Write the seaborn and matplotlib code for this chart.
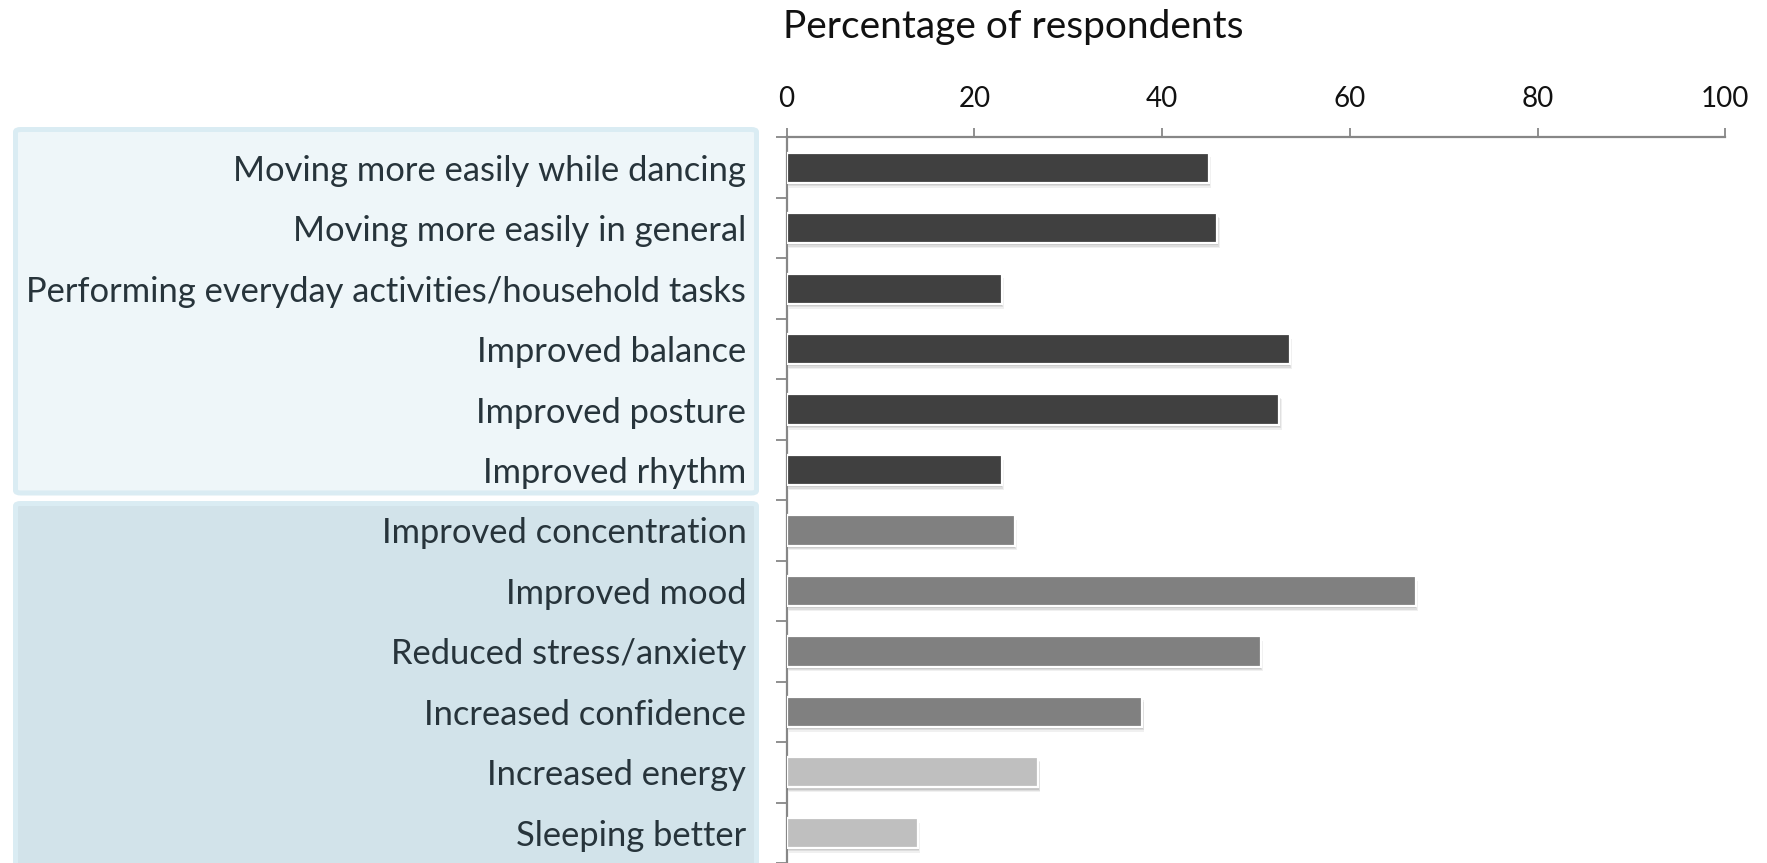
import numpy as np
import pandas as pd
import matplotlib
matplotlib.use("Agg")
import matplotlib.pyplot as plt
import matplotlib.patheffects as pe
from matplotlib.patches import FancyBboxPatch
import seaborn as sns

# Reported benefits of dance classes (percentage of respondents)
benefits = [
    "Moving more easily while dancing",
    "Moving more easily in general",
    "Performing everyday activities/household tasks",
    "Improved balance",
    "Improved posture",
    "Improved rhythm",
    "Improved concentration",
    "Improved mood",
    "Reduced stress/anxiety",
    "Increased confidence",
    "Increased energy",
    "Sleeping better",
]
percent = [45.0, 45.9, 22.9, 53.6, 52.5, 22.9, 24.3, 67.0, 50.5, 37.9, 26.8, 14.0]
domain = ["physical"] * 6 + ["mental"] * 4 + ["energy_sleep"] * 2
x_ticks = [0, 20, 40, 60, 80, 100]
x_title = "Percentage of respondents"

domain_colors = {"physical": "#404040", "mental": "#808080", "energy_sleep": "#BFBFBF"}

df = pd.DataFrame({"benefit": benefits, "percent": percent, "domain": domain})

sns.set_theme(style="white")
plt.rcParams["font.family"] = ["Lato", "DejaVu Sans"]

W, H, DPI = 1767, 863, 100
fig = plt.figure(figsize=(W / DPI, H / DPI), dpi=DPI)


def fx(px):
    return px / W


def fy(py):
    return 1 - py / H


# Shaded panels behind the two groups of row labels
panel_specs = [
    (15.5, 129.5, 741.0, 363.5, "#EEF6F9"),
    (15.5, 503.5, 741.0, 380.0, "#D2E3EA"),
]
for x0, y0, w, h, face in panel_specs:
    fig.add_artist(FancyBboxPatch(
        (fx(x0), fy(y0 + h)), fx(w), h / H,
        boxstyle="round,pad=0,rounding_size=0.003",
        transform=fig.transFigure, facecolor=face, edgecolor="#DAECF3",
        linewidth=3.6, zorder=0))

ax = fig.add_axes([fx(786.6), 0.0, fx(1725.3) - fx(786.6), fy(137.5)])
ax.set_facecolor("none")

sns.barplot(data=df, x="percent", y="benefit", hue="domain", palette=domain_colors,
            dodge=False, width=0.5, orient="h", legend=False, ax=ax, zorder=3)

# Soft drop shadow under each bar, built from a few faint offset copies
shadow = [
    pe.SimplePatchShadow(offset=(0.5, -1.5), shadow_rgbFace="#000000", alpha=0.10),
    pe.SimplePatchShadow(offset=(1.0, -2.5), shadow_rgbFace="#000000", alpha=0.08),
    pe.SimplePatchShadow(offset=(1.5, -3.5), shadow_rgbFace="#000000", alpha=0.06),
    pe.Normal(),
]
for bar in ax.patches:
    bar.set_edgecolor("white")
    bar.set_linewidth(1.6)
    bar.set_path_effects(shadow)

ax.set_xlim(0, 100)
ax.set_ylim(len(benefits) - 0.5, -0.5)

# Value axis along the top
ax.xaxis.tick_top()
ax.set_xticks(x_ticks)
ax.set_xticklabels([str(t) for t in x_ticks])
ax.tick_params(axis="x", which="major", direction="out", length=6.5, width=1.3,
               color="#878787", pad=12, labelsize=20, labelcolor="#111111")
ax.set_xlabel("")

# Category axis: labels at row centres, ticks at row boundaries
ax.set_yticks(range(len(benefits)))
ax.set_yticklabels(benefits)
ax.set_yticks(np.arange(-0.5, len(benefits), 1.0), minor=True)
ax.tick_params(axis="y", which="major", length=0, pad=29, labelsize=24.8,
               labelcolor="#27343B")
ax.tick_params(axis="y", which="minor", direction="out", length=8, width=1.3,
               color="#878787", left=True)
ax.set_ylabel("")

for side in ("right", "bottom"):
    ax.spines[side].set_visible(False)
for side in ("top", "left"):
    ax.spines[side].set_color("#878787")
    ax.spines[side].set_linewidth(1.6)

fig.text(fx(783), fy(27), x_title, ha="left", va="center", fontsize=28, color="#111111")

fig.savefig("out.png", dpi=DPI)
